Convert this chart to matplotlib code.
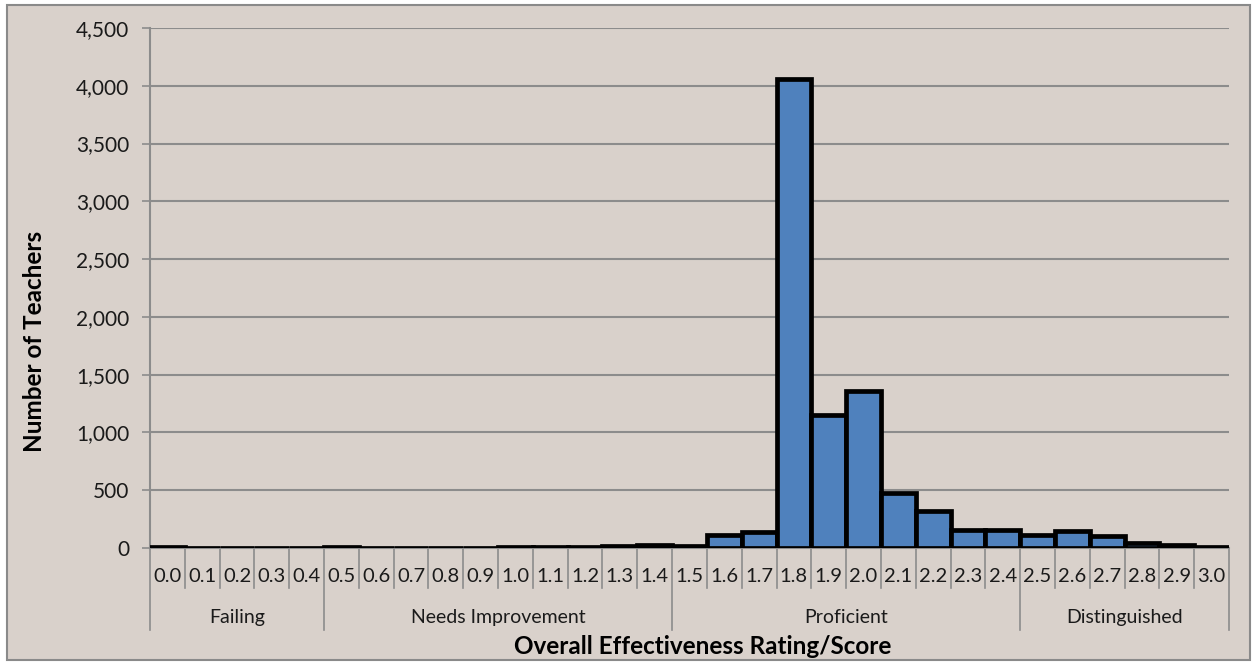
import matplotlib.pyplot as plt
from matplotlib.patches import Rectangle
from matplotlib.ticker import FuncFormatter

plt.rcParams['font.family'] = ['Lato', 'DejaVu Sans']

# score bins and number of teachers in each
scores = ['0.0', '0.1', '0.2', '0.3', '0.4', '0.5', '0.6', '0.7', '0.8', '0.9',
          '1.0', '1.1', '1.2', '1.3', '1.4', '1.5', '1.6', '1.7', '1.8', '1.9',
          '2.0', '2.1', '2.2', '2.3', '2.4', '2.5', '2.6', '2.7', '2.8', '2.9', '3.0']
teachers = [8, 3, 3, 3, 3, 5, 3, 3, 4, 4,
            10, 12, 12, 20, 30, 20, 110, 140, 4060, 1150,
            1360, 476, 320, 155, 155, 110, 147, 107, 43, 22, 8]

# rating groups: (name, first bin, last bin)
groups = [('Failing', 0, 4),
          ('Needs Improvement', 5, 14),
          ('Proficient', 15, 24),
          ('Distinguished', 25, 30)]

bg = '#D9D1CB'
grid_col = '#8C8C8C'
txt = '#1A1A1A'

fig = plt.figure(figsize=(12.53, 6.62), dpi=100, facecolor='white')
fig.patches.append(Rectangle((7 / 1253, 2 / 662), 1243 / 1253, 655 / 662,
                             transform=fig.transFigure, facecolor=bg,
                             edgecolor='#8A8A8A', linewidth=1.5, zorder=-10))

ax = fig.add_axes([150 / 1253, 114 / 662, 1079 / 1253, 520 / 662])
ax.patch.set_alpha(0)

x = list(range(len(scores)))
ax.bar(x, teachers, width=1.0, color='#4F81BD', edgecolor='black',
       linewidth=3.4, zorder=3)

ax.set_xlim(-0.5, len(scores) - 0.5)
ax.set_ylim(0, 4500)
ax.set_yticks(range(0, 4501, 500))
ax.yaxis.set_major_formatter(FuncFormatter(lambda v, p: f'{int(v):,}'))
ax.tick_params(axis='y', length=6, width=1.2, color=grid_col,
               labelsize=15, pad=9, labelcolor=txt)
ax.yaxis.grid(True, color=grid_col, linewidth=1.5, zorder=0)
ax.set_axisbelow(True)
ax.set_xticks([])

for side in ['top', 'right']:
    ax.spines[side].set_visible(False)
ax.spines['left'].set_color(grid_col)
ax.spines['left'].set_linewidth(1.5)
ax.spines['bottom'].set_color(grid_col)
ax.spines['bottom'].set_linewidth(1.5)

# category axis: score labels and separators
tr = ax.get_xaxis_transform()
group_starts = {g[1] for g in groups}
for i, s in enumerate(scores):
    ax.text(i, -0.054, s, transform=tr, ha='center', va='center',
            fontsize=14.5, color=txt)
for i in range(len(scores) + 1):
    low = -0.158 if (i in group_starts or i == len(scores)) else -0.077
    ax.plot([i - 0.5, i - 0.5], [0, low], transform=tr, color=grid_col,
            linewidth=1.2, clip_on=False)

for name, a, b in groups:
    ax.text((a + b) / 2, -0.133, name, transform=tr, ha='center', va='center',
            fontsize=14, color=txt)

fig.text(703 / 1253, 1 - 646 / 662, 'Overall Effectiveness Rating/Score',
         ha='center', va='center', fontsize=17.5, fontweight='bold')
fig.text(35 / 1253, 1 - 341 / 662, 'Number of Teachers', rotation=90,
         ha='center', va='center', fontsize=17.5, fontweight='bold')

plt.savefig('out.png', dpi=100, facecolor=fig.get_facecolor())
